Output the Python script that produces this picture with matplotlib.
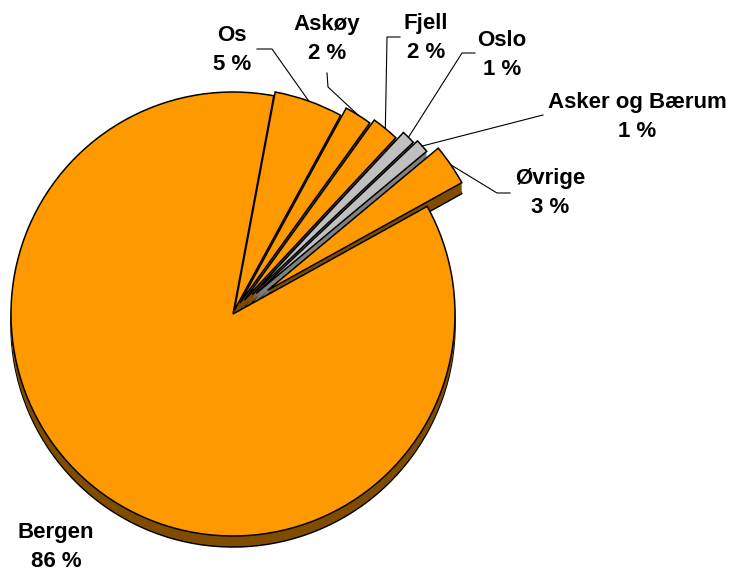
import matplotlib
matplotlib.use('Agg')
import matplotlib.pyplot as plt
import numpy as np

places = ["Bergen", "Os", "Askøy", "Fjell", "Oslo", "Asker og Bærum", "Øvrige"]
shares = [86, 5, 2, 2, 1, 1, 3]
top_colors = ["#FF9900", "#FF9900", "#FF9900", "#FF9900", "#C0C0C0", "#C0C0C0", "#FF9900"]
side_colors = ["#7F4C00", "#7F4C00", "#7F4C00", "#7F4C00", "#808080", "#808080", "#7F4C00"]

# pixel-based layout: x to the right, y = -row
W, H = 731, 573
cx, cy = 233, -314
radius = 222
depth = 11
explode = [0, 4, 13, 18, 27, 31, 42]

# label centre, knee of the leader line, and where the line meets the text
label_xy = [(56, 547), (232, 50), (327, 39), (426, 38), (502, 55), (637, 117), (550, 193)]
knees = [None, (272, 49), (328, 87), (387, 37), (462, 53), None, (497, 193)]
line_ends = [None, (257, 49), (327, 73), (400, 37), (475, 53), (543, 115), (510, 193)]

fig = plt.figure(figsize=(W / 100, H / 100), dpi=100)
ax = fig.add_axes([0, 0, 1, 1])

pie_kw = dict(explode=explode, startangle=29, counterclock=False, radius=radius)

# extruded body: stack of darker pies stepping up to the top face
for k in range(depth, 0, -1):
    ax.pie(shares, colors=side_colors, center=(cx, cy - k),
           wedgeprops=dict(edgecolor="black" if k == depth else "none",
                           linewidth=1.1 if k == depth else 0),
           **pie_kw)

wedges, _ = ax.pie(shares, colors=top_colors, center=(cx, cy),
                   wedgeprops=dict(edgecolor="black", linewidth=1.1),
                   **pie_kw)

for i, (name, share) in enumerate(zip(places, shares)):
    lx, ly = label_xy[i]
    ax.text(lx, -ly, f"{name}\n{share} %", ha="center", va="center",
            fontsize=16, fontweight="bold", family=["Liberation Sans", "DejaVu Sans"],
            linespacing=1.5)
    if line_ends[i] is None:
        continue
    w = wedges[i]
    mid = np.deg2rad((w.theta1 + w.theta2) / 2)
    ax_ = w.center[0] + w.r * np.cos(mid)
    ay_ = w.center[1] + w.r * np.sin(mid)
    xs, ys = [ax_], [ay_]
    if knees[i] is not None:
        xs.append(knees[i][0])
        ys.append(-knees[i][1])
    xs.append(line_ends[i][0])
    ys.append(-line_ends[i][1])
    ax.plot(xs, ys, color="black", linewidth=0.8)

ax.set_xlim(0, W)
ax.set_ylim(-H, 0)
ax.set_aspect("equal")
ax.axis("off")

plt.savefig("out.png", dpi=100)
